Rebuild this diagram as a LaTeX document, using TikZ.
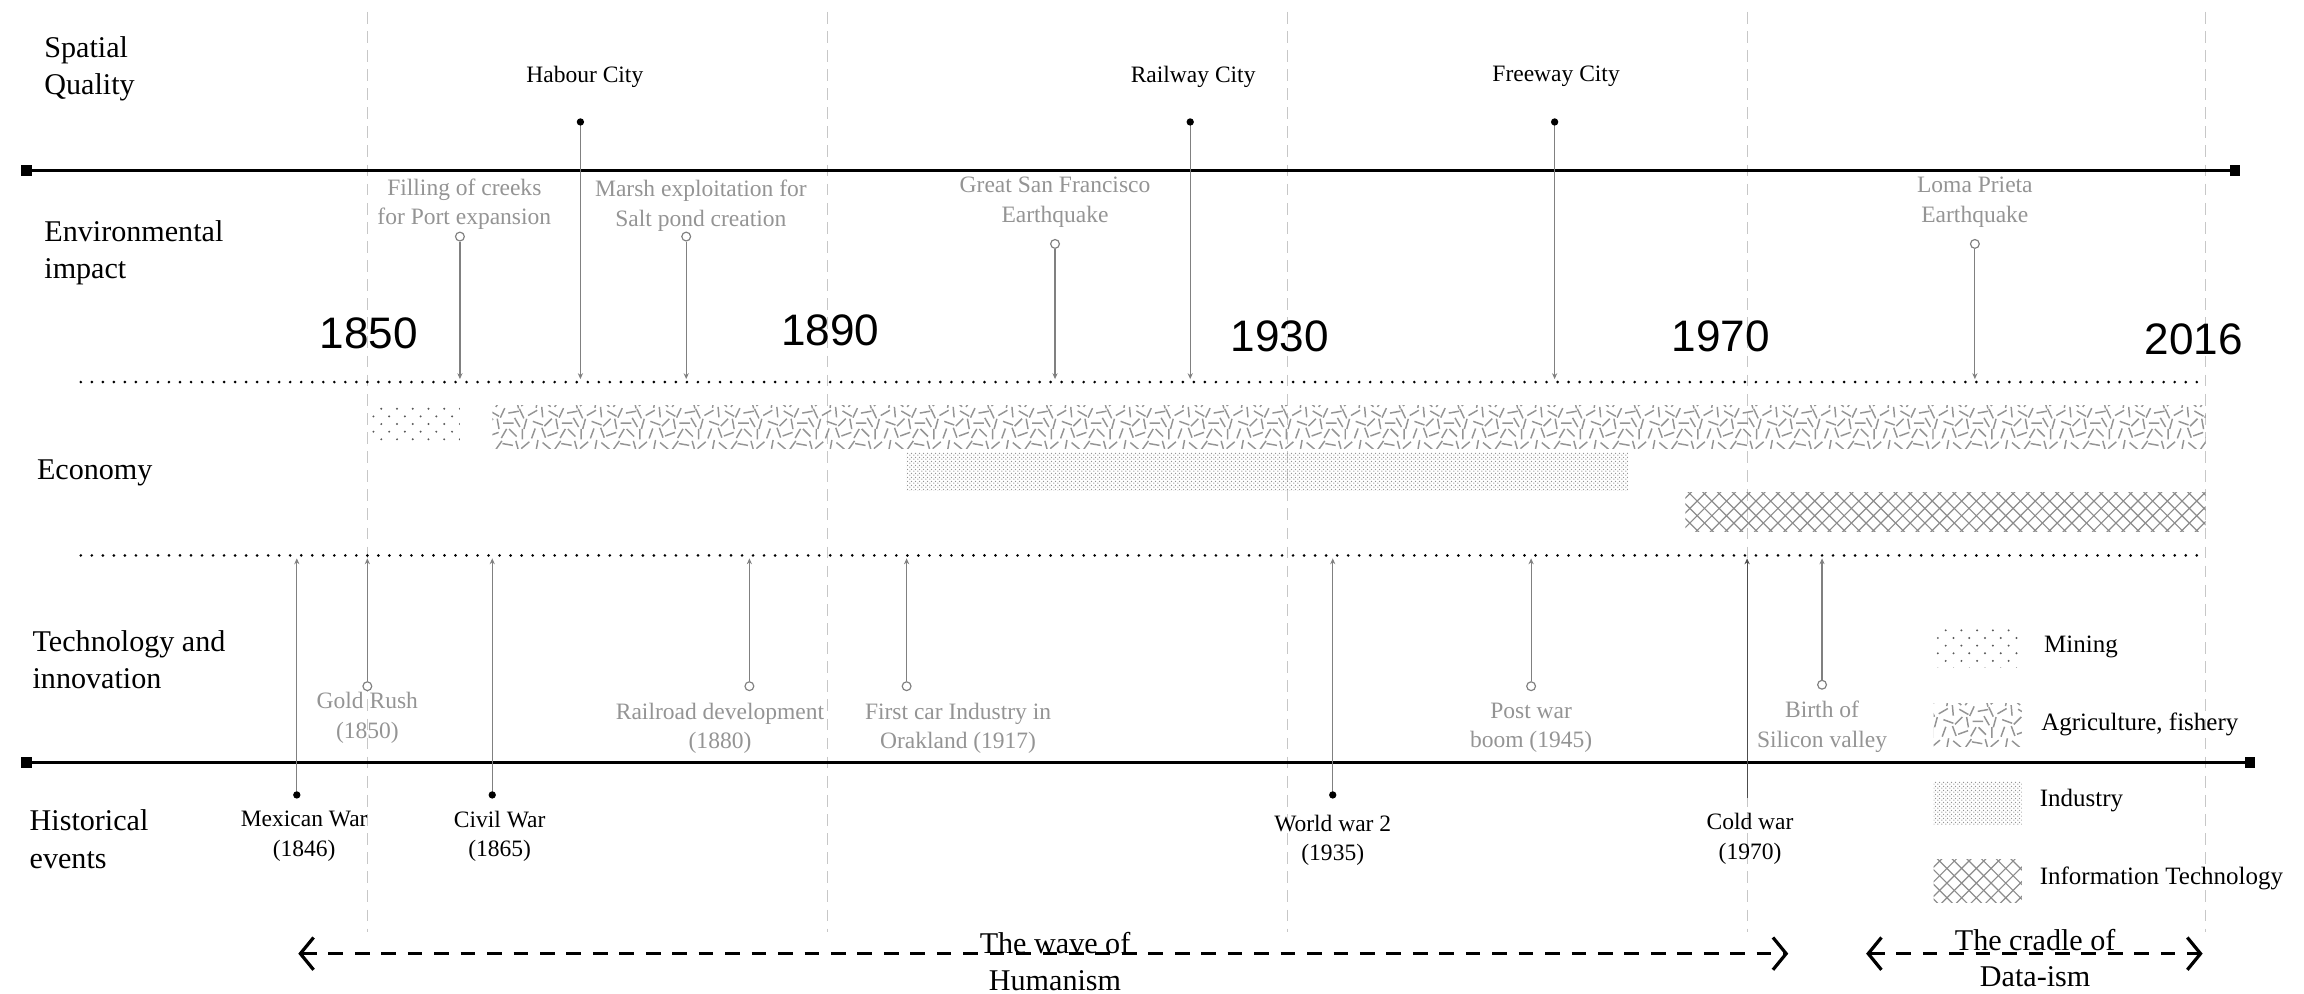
\documentclass[tikz,border=0pt]{standalone}
\usepackage{fontspec}
\setmainfont{Liberation Serif}
\newfontfamily\yearfont{Liberation Sans}
\usetikzlibrary{patterns,arrows.meta}
\newcommand\agst[4]{\pgfpathmoveto{\pgfqpoint{#1pt}{#2pt}}\pgfpathlineto{\pgfqpoint{#3pt}{#4pt}}}
\newcommand\agr[3]{\pgfpathmoveto{\pgfpointadd{\pgfqpoint{#1pt}{#2pt}}{\pgfpointpolar{#3}{3.6pt}}}%
  \pgfpathlineto{\pgfpointadd{\pgfqpoint{#1pt}{#2pt}}{\pgfpointpolar{#3}{-3.6pt}}}}
\pgfdeclarepatternformonly{miningdots}{\pgfqpoint{-1pt}{-1pt}}{\pgfqpoint{11.7pt}{11.4pt}}{\pgfqpoint{10.7pt}{10.4pt}}{%
  \pgfpathcircle{\pgfqpoint{2.7pt}{2.6pt}}{0.75pt}%
  \pgfpathcircle{\pgfqpoint{8.05pt}{7.8pt}}{0.75pt}%
  \pgfusepath{fill}}
\pgfdeclarepatternformonly{indots}{\pgfqpoint{0pt}{0pt}}{\pgfqpoint{2.8pt}{2.8pt}}{\pgfqpoint{2.8pt}{2.8pt}}{%
  \pgfpathcircle{\pgfqpoint{0.7pt}{0.7pt}}{0.55pt}%
  \pgfpathcircle{\pgfqpoint{2.1pt}{2.1pt}}{0.55pt}%
  \pgfusepath{fill}}
\pgfdeclarepatternformonly{itx}{\pgfqpoint{-0.5pt}{-0.5pt}}{\pgfqpoint{10.5pt}{10.5pt}}{\pgfqpoint{10pt}{10pt}}{%
  \pgfsetlinewidth{0.8pt}%
  \agst{0}{0}{10}{10}\agst{0}{10}{10}{0}%
  \pgfusepath{stroke}}
\pgfdeclarepatternformonly{agri}{\pgfqpoint{-1pt}{-1pt}}{\pgfqpoint{41pt}{30pt}}{\pgfqpoint{40pt}{29pt}}{%
  \pgfsetlinewidth{1pt}%
  \agr{3}{4}{70}\agr{10}{4.5}{110}\agr{16}{3.5}{20}\agr{23}{4}{60}\agr{29}{4.5}{135}\agr{35.5}{3.5}{90}%
  \agr{6}{11}{160}\agr{13}{11.5}{45}\agr{19}{10.5}{100}\agr{26}{11}{0}\agr{32}{11.5}{120}\agr{37.5}{10.5}{75}%
  \agr{2.5}{18}{30}\agr{9}{18.5}{95}\agr{16.5}{17.5}{150}\agr{22}{18}{65}\agr{29.5}{18.5}{10}\agr{35}{17.5}{115}%
  \agr{5.5}{25}{80}\agr{12}{24.5}{140}\agr{19.5}{25}{55}\agr{25.5}{25.5}{170}\agr{32}{24.5}{105}\agr{37.5}{25}{40}%
  \pgfusepath{stroke}}
\begin{document}
\begin{tikzpicture}[x=1pt,y=-1pt,
  gridln/.style={draw=black!22,line width=0.8pt,dash pattern=on 8pt off 5pt},
  axisln/.style={line width=2.2pt},
  sq/.style={rectangle,fill=black,minimum size=7pt,inner sep=0pt},
  sepln/.style={line width=2pt,dash pattern=on 0pt off 7.5pt,line cap=round},
  conn/.style={draw=black!50,line width=0.8pt,-{Stealth[length=4pt,width=3.5pt]}},
  odot/.style={circle,draw=black!50,fill=white,line width=0.8pt,minimum size=6pt,inner sep=0pt},
  bdot/.style={circle,fill=black,minimum size=5pt,inner sep=0pt},
  cat/.style={anchor=west,align=left,inner sep=0pt,font=\fontsize{20.5}{25.5}\selectfont},
  evg/.style={align=center,text=black!42,inner sep=0pt,font=\fontsize{16}{20}\selectfont},
  evb/.style={align=center,text=black,inner sep=0pt,font=\fontsize{16}{20}\selectfont},
  yr/.style={inner sep=0pt,font=\yearfont\fontsize{30}{36}\selectfont},
  leg/.style={anchor=west,inner sep=0pt,font=\fontsize{17}{20}\selectfont},
  swatch/.style={rectangle,minimum width=60pt,minimum height=29pt,inner sep=0pt},
  era/.style={line width=2pt,dash pattern=on 10pt off 8pt,
    {Straight Barb[length=9pt,width=22pt,line width=2.2pt]}-{Straight Barb[length=9pt,width=22pt,line width=2.2pt]}},
  eratext/.style={align=center,inner sep=0pt,font=\fontsize{20.5}{25}\selectfont}]
\useasboundingbox (0,0) rectangle (1568,676);
% grid lines
\foreach \gx in {250,563,876,1189,1501} \draw[gridln] (\gx,8) -- (\gx,634);
% economy bars
\fill[pattern=miningdots,pattern color=black!65] (250,276) rectangle (313,302);
\fill[pattern=agri,pattern color=black!42] (335,276) rectangle (1501,305);
\fill[pattern=indots,pattern color=black!42] (617,308) rectangle (1108,334);
\fill[pattern=itx,pattern color=black!45] (1147,335) rectangle (1501,362);
% separators
\coordinate (s1a) at (55,260); \coordinate (s1b) at (1500,260);
\coordinate (s2a) at (55,378); \coordinate (s2b) at (1500,378);
\draw[sepln] (s1a) -- (s1b);
\draw[sepln] (s2a) -- (s2b);
% axes
\node[sq] (ta) at (18,116) {}; \node[sq] (tb) at (1521,116) {};
\node[sq] (ba) at (18,519) {}; \node[sq] (bb) at (1531,519) {};
\draw[axisln] (ta.center) -- (tb.center);
\draw[axisln] (ba.center) -- (bb.center);
% category labels
\node[cat] (lsq) at (30,47) {Spatial\\Quality};
\node[cat] (lenv) at (30,172) {Environmental\\impact};
\node[cat] (leco) at (25,322) {Economy};
\node[cat] (ltec) at (22,449) {Technology and\\innovation};
\node[cat] (lhis) at (20,571) {Historical\\events};
% years
\node[yr] (y1850) at (251,227) {1850};
\node[yr] (y1890) at (565,225) {1890};
\node[yr] (y1930) at (871,229) {1930};
\node[yr] (y1970) at (1171,229) {1970};
\node[yr] (y2016) at (1493,231) {2016};
% spatial quality
\node[evb] (thc) at (398,52) {Habour City};
\node[evb] (trc) at (812,52) {Railway City};
\node[evb] (tfc) at (1059,52) {Freeway City};
\coordinate (hcE) at (395,258); \coordinate (rcE) at (810,258); \coordinate (fcE) at (1058,258);
\draw[conn] (395,83) -- (hcE);
\draw[conn] (810,83) -- (rcE);
\draw[conn] (1058,83) -- (fcE);
\node[bdot] (dhc) at (395,83) {};
\node[bdot] (drc) at (810,83) {};
\node[bdot] (dfc) at (1058,83) {};
% environmental impact
\node[evg] (tfil) at (316,139) {Filling of creeks\\for Port expansion};
\node[evg] (tmar) at (477,140) {Marsh exploitation for\\Salt pond creation};
\node[evg] (tsf) at (718,137.5) {Great San Francisco\\Earthquake};
\node[evg] (tlp) at (1344,137.5) {Loma Prieta\\Earthquake};
\node[odot] (cfil) at (313,161) {};
\node[odot] (cmar) at (467,161) {};
\node[odot] (csf) at (718,166) {};
\node[odot] (clp) at (1344,166) {};
\coordinate (filE) at (313,258); \coordinate (marE) at (467,258);
\coordinate (sfE) at (718,258); \coordinate (lpE) at (1344,258);
\draw[conn] (cfil) -- (filE);
\draw[conn] (cmar) -- (marE);
\draw[conn] (csf) -- (sfE);
\draw[conn] (clp) -- (lpE);
% technology and innovation
\node[evg] (tgr) at (250,488.5) {Gold Rush\\(1850)};
\node[evg] (trr) at (490,495.5) {Railroad development\\(1880)};
\node[evg] (tcar) at (652,495.5) {First car Industry in\\Orakland (1917)};
\node[evg] (tpw) at (1042,495.5) {Post war\\boom (1945)};
\node[evg] (tsv) at (1240,494.5) {Birth of\\Silicon valley};
\node[odot] (cgr) at (250,467) {};
\node[odot] (crr) at (510,467) {};
\node[odot] (ccar) at (617,467) {};
\node[odot] (cpw) at (1042,467) {};
\node[odot] (csv) at (1240,466) {};
\coordinate (grE) at (250,380); \coordinate (rrE) at (510,380);
\coordinate (carE) at (617,380); \coordinate (pwE) at (1042,380);
\coordinate (svE) at (1240,380);
\draw[conn] (cgr) -- (grE);
\draw[conn] (crr) -- (rrE);
\draw[conn] (ccar) -- (carE);
\draw[conn] (cpw) -- (pwE);
\draw[conn] (csv) -- (svE);
% historical events
\node[evb] (tmx) at (207,569) {Mexican War\\(1846)};
\node[evb] (tcw) at (340,569) {Civil War\\(1865)};
\node[evb] (tww) at (907,572) {World war 2\\(1935)};
\node[evb] (tcd) at (1191,571) {Cold war\\(1970)};
\coordinate (mxE) at (202,380); \coordinate (cwE) at (335,380);
\coordinate (wwE) at (907,380); \coordinate (cdE) at (1189,380);
\coordinate (cdS) at (1189,543);
\draw[conn] (202,541) -- (mxE);
\draw[conn] (335,541) -- (cwE);
\draw[conn] (907,541) -- (wwE);
\draw[conn,draw=black!70] (cdS) -- (cdE);
\node[bdot] (dmx) at (202,541) {};
\node[bdot] (dcw) at (335,541) {};
\node[bdot] (dww) at (907,541) {};
% legend
\node[swatch,pattern=miningdots,pattern color=black!65] (smin) at (1346,440) {};
\node[swatch,pattern=agri,pattern color=black!42] (sagr) at (1346,493.5) {};
\node[swatch,pattern=indots,pattern color=black!42] (sind) at (1346,546.5) {};
\node[swatch,pattern=itx,pattern color=black!45] (sit) at (1346,599.5) {};
\node[leg] (lmin) at (1391,440) {Mining};
\node[leg] (lagr) at (1389,493) {Agriculture, fishery};
\node[leg] (lind) at (1388,545) {Industry};
\node[leg] (lit) at (1388,598) {Information Technology};
% eras
\coordinate (hA) at (203,649); \coordinate (hB) at (1217,649);
\coordinate (cA) at (1270,649); \coordinate (cB) at (1499,649);
\draw[era] (hA) -- (hB);
\draw[era] (cA) -- (cB);
\node[eratext] (thu) at (718,654.5) {The wave of\\Humanism};
\node[eratext] (tcr) at (1385,652) {The cradle of\\Data-ism};
\end{tikzpicture}
\end{document}
